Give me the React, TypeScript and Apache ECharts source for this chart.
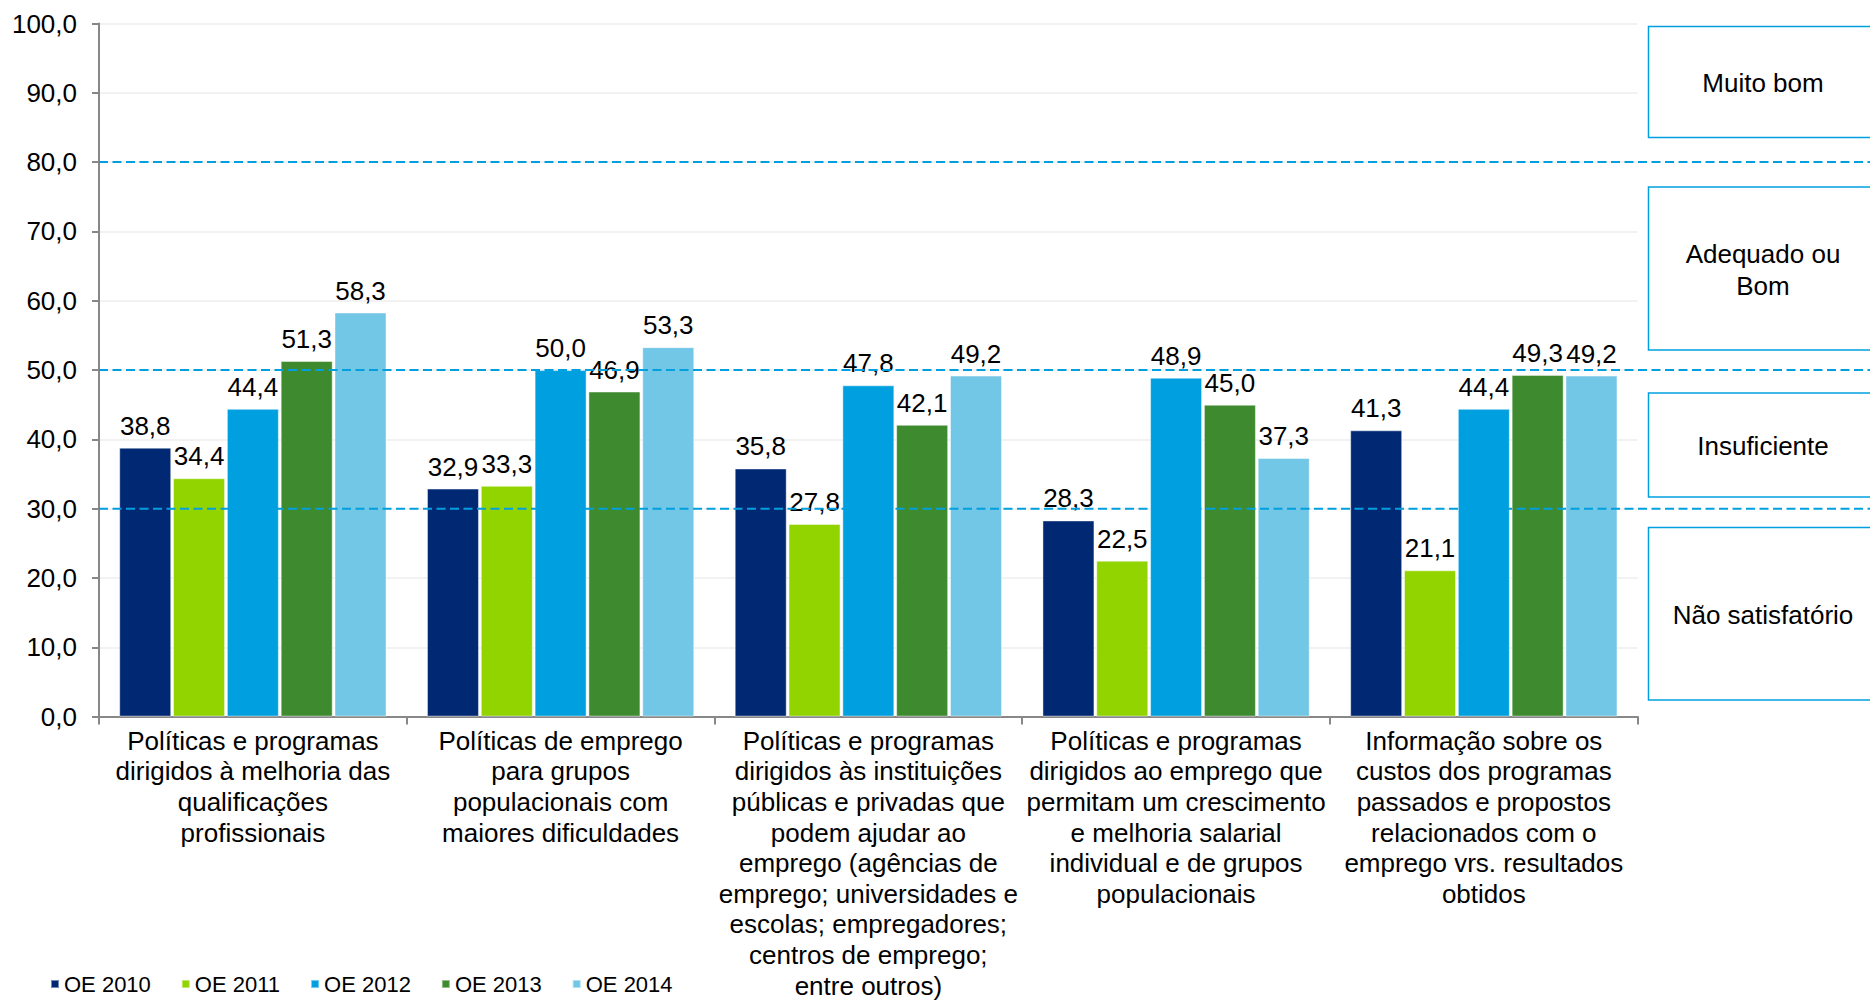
import React, { useEffect, useRef } from "react";
import * as echarts from "echarts";

const categories = [
  "Políticas e programas\ndirigidos à melhoria das\nqualificações\nprofissionais",
  "Políticas de emprego\npara grupos\npopulacionais com\nmaiores dificuldades",
  "Políticas e programas\ndirigidos às instituições\npúblicas e privadas que\npodem ajudar ao\nemprego (agências de\nemprego; universidades e\nescolas; empregadores;\ncentros de emprego;\nentre outros)",
  "Políticas e programas\ndirigidos ao emprego que\npermitam um crescimento\ne melhoria salarial\nindividual e de grupos\npopulacionais",
  "Informação sobre os\ncustos dos programas\npassados e propostos\nrelacionados com o\nemprego vrs. resultados\nobtidos",
];

const seriesNames = ["OE 2010", "OE 2011", "OE 2012", "OE 2013", "OE 2014"];
const oe2010 = [38.8, 32.9, 35.8, 28.3, 41.3];
const oe2011 = [34.4, 33.3, 27.8, 22.5, 21.1];
const oe2012 = [44.4, 50.0, 47.8, 48.9, 44.4];
const oe2013 = [51.3, 46.9, 42.1, 45.0, 49.3];
const oe2014 = [58.3, 53.3, 49.2, 37.3, 49.2];
const seriesValues = [oe2010, oe2011, oe2012, oe2013, oe2014];
const seriesColors = ["#002873", "#92D400", "#00A0E0", "#3E8A2F", "#72C6E6"];

const thresholds = [30, 50, 80];
const bandLabels = ["Muito bom", "Adequado ou\nBom", "Insuficiente", "Não satisfatório"];

const FONT = '"Liberation Sans", Arial, sans-serif';
const fmt = (v: number) => v.toFixed(1).replace(".", ",");

export default function App() {
  const ref = useRef<HTMLDivElement>(null);

  useEffect(() => {
    document.body.style.margin = "0";
    if (!ref.current) return;
    const chart = echarts.init(ref.current, null, { renderer: "svg" });

    const option: any = {
      animation: false,
      textStyle: { fontFamily: FONT },
      grid: { left: 99, right: 232.3, top: 23.5, bottom: 282.7, containLabel: false },
      legend: {
        left: 45,
        top: 968,
        icon: "rect",
        itemWidth: 8,
        itemHeight: 8,
        itemGap: 30,
        textStyle: { fontSize: 22, color: "#000", fontFamily: FONT },
        data: seriesNames,
      },
      xAxis: {
        type: "category",
        data: categories,
        axisLine: { lineStyle: { color: "#888", width: 2 } },
        axisTick: { show: true, length: 8, alignWithLabel: false, lineStyle: { color: "#888", width: 2 } },
        axisLabel: {
          interval: 0,
          margin: 9,
          fontSize: 26,
          lineHeight: 30.6,
          color: "#000",
          fontFamily: FONT,
          align: "center",
        },
      },
      yAxis: {
        type: "value",
        min: 0,
        max: 100,
        interval: 10,
        axisLine: { show: true, lineStyle: { color: "#888", width: 2 } },
        axisTick: { show: true, length: 7, lineStyle: { color: "#888", width: 2 } },
        axisLabel: { formatter: (v: number) => fmt(v), fontSize: 26, color: "#000", margin: 22, fontFamily: FONT },
        splitLine: { lineStyle: { color: "#eeeeee", width: 1.5 } },
      },
      series: seriesNames.map((name, i) => ({
        name,
        type: "bar",
        data: seriesValues[i],
        barWidth: 52,
        barGap: "3.5%",
        itemStyle: { color: seriesColors[i], borderColor: "rgba(255,255,255,0.45)", borderWidth: 1 },
        label: {
          show: true,
          position: "top",
          distance: 9,
          formatter: (p: any) => fmt(p.value),
          fontSize: 26,
          color: "#000",
          fontFamily: FONT,
        },
        z: 2,
      })),
    };

    chart.setOption(option);

    const W = 1870;
    const xLeft = 99;
    const lines = thresholds.map((t) => {
      const y = chart.convertToPixel({ yAxisIndex: 0 }, t) as number;
      return {
        type: "line",
        z: 50,
        shape: { x1: xLeft, y1: y, x2: W, y2: y },
        style: { stroke: "#00A0E0", lineWidth: 2, lineDash: [9, 4.5] },
      };
    });

    const boxes = [
      { top: 26.5, bottom: 137.5 },
      { top: 187, bottom: 350 },
      { top: 393, bottom: 497 },
      { top: 527.5, bottom: 700 },
    ];
    const boxLeft = 1648.5;
    const boxWidth = 232;
    const boxEls: any[] = [];
    boxes.forEach((b, i) => {
      boxEls.push({
        type: "rect",
        z: 60,
        shape: { x: boxLeft, y: b.top, width: boxWidth, height: b.bottom - b.top },
        style: { fill: "#fff", stroke: "#00A0E0", lineWidth: 1.5 },
      });
      boxEls.push({
        type: "text",
        z: 61,
        x: boxLeft + 114.5,
        y: (b.top + b.bottom) / 2 + 1,
        style: {
          text: bandLabels[i],
          fill: "#000",
          fontSize: 26,
          fontFamily: FONT,
          lineHeight: 32,
          align: "center",
          verticalAlign: "middle",
          textAlign: "center",
          textVerticalAlign: "middle",
        },
      });
    });

    chart.setOption({ graphic: [...lines, ...boxEls] });

    return () => chart.dispose();
  }, []);

  return <div ref={ref} style={{ width: 1870, height: 1001 }} />;
}
